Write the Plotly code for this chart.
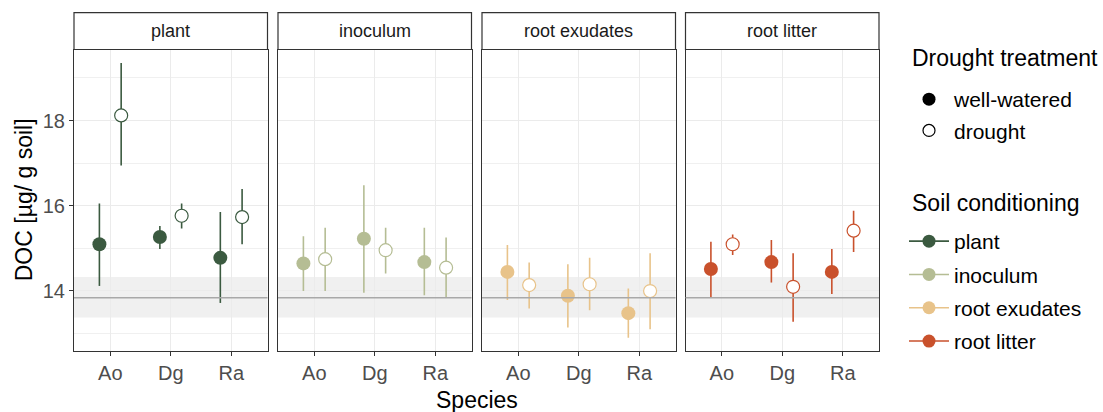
import plotly.graph_objects as go

# ── Data ─────────────────────────────────────────────────────
species = ["Ao", "Dg", "Ra"]
conditioning = ["plant", "inoculum", "root exudates", "root litter"]
colors = ["#3b5a40", "#b5bd94", "#e8c38a", "#c9512c"]

# means per panel (species order Ao, Dg, Ra)
ww_mean = {
    "plant":         [15.09, 15.26, 14.77],
    "inoculum":      [14.64, 15.22, 14.67],
    "root exudates": [14.44, 13.88, 13.47],
    "root litter":   [14.51, 14.67, 14.44],
}
ww_hi = {
    "plant":         [16.05, 15.52, 15.85],
    "inoculum":      [15.28, 16.48, 15.48],
    "root exudates": [15.07, 14.62, 14.05],
    "root litter":   [15.15, 15.19, 14.98],
}
ww_lo = {
    "plant":         [14.11, 14.98, 13.71],
    "inoculum":      [13.99, 13.95, 13.89],
    "root exudates": [13.78, 13.13, 12.89],
    "root litter":   [13.85, 14.19, 13.92],
}
dr_mean = {
    "plant":         [18.12, 15.76, 15.73],
    "inoculum":      [14.74, 14.95, 14.54],
    "root exudates": [14.13, 14.15, 13.99],
    "root litter":   [15.09, 14.09, 15.41],
}
dr_hi = {
    "plant":         [19.35, 16.05, 16.39],
    "inoculum":      [15.48, 15.48, 15.25],
    "root exudates": [14.66, 14.77, 14.88],
    "root litter":   [15.32, 14.88, 15.88],
}
dr_lo = {
    "plant":         [16.94, 15.46, 15.09],
    "inoculum":      [13.99, 14.40, 13.85],
    "root exudates": [13.58, 13.54, 13.09],
    "root litter":   [14.84, 13.27, 14.91],
}

# control reference (mean and band)
ctrl_mean = 13.83
ctrl_lo = 13.37
ctrl_hi = 14.32

y_ticks = [14, 16, 18]

# ── Layout geometry (pixels) ─────────────────────────────────
W, H = 1103, 412
PANEL_LEFTS = [74, 278, 482, 685.5]
PANEL_W = 193.5
PANEL_TOP, PANEL_BOTTOM = 49.5, 351
STRIP_TOP = 12.7
DODGE = 0.18
Y_RANGE = [12.58, 19.67]


def px(p):
    return p / W


def py(p):
    return 1 - p / H


fig = go.Figure()

for i, cond in enumerate(conditioning):
    n = "" if i == 0 else str(i + 1)
    xa, ya = "x" + n, "y" + n
    col = colors[i]
    xs = list(range(1, len(species) + 1))

    # well-watered (filled)
    fig.add_trace(go.Scatter(
        x=[v - DODGE for v in xs], y=ww_mean[cond], xaxis=xa, yaxis=ya,
        mode="markers", showlegend=False,
        marker=dict(color=col, size=14, symbol="circle", line=dict(width=0)),
        error_y=dict(type="data", symmetric=False,
                     array=[h - m for h, m in zip(ww_hi[cond], ww_mean[cond])],
                     arrayminus=[m - l for m, l in zip(ww_mean[cond], ww_lo[cond])],
                     color=col, thickness=1.6, width=0),
    ))
    # drought (open)
    fig.add_trace(go.Scatter(
        x=[v + DODGE for v in xs], y=dr_mean[cond], xaxis=xa, yaxis=ya,
        mode="markers", showlegend=False,
        marker=dict(color="white", size=13, symbol="circle",
                    line=dict(color=col, width=1.2)),
        error_y=dict(type="data", symmetric=False,
                     array=[h - m for h, m in zip(dr_hi[cond], dr_mean[cond])],
                     arrayminus=[m - l for m, l in zip(dr_mean[cond], dr_lo[cond])],
                     color=col, thickness=1.6, width=0),
    ))

    x0 = PANEL_LEFTS[i]
    x1 = x0 + PANEL_W
    fig.layout["xaxis" + n] = dict(
        domain=[px(x0), px(x1)], anchor=ya, range=[0.4, 3.6], automargin=False,
        tickvals=xs, ticktext=species,
        showgrid=True, gridcolor="#ebebeb", gridwidth=1,
        showline=True, mirror=True, linecolor="#333333", linewidth=1.2,
        ticks="outside", ticklen=4, tickcolor="#333333",
        tickfont=dict(size=20, color="#4d4d4d"), zeroline=False,
    )
    fig.layout["yaxis" + n] = dict(
        domain=[py(PANEL_BOTTOM), py(PANEL_TOP)], anchor=xa, range=Y_RANGE,
        automargin=False,
        tickvals=y_ticks, showticklabels=(i == 0),
        ticks="outside" if i == 0 else "", ticklen=4, tickcolor="#333333",
        showgrid=True, gridcolor="#ebebeb", gridwidth=1,
        minor=dict(dtick=1, tick0=13, showgrid=True, gridcolor="#f0f0f0", gridwidth=0.7),
        showline=True, mirror=True, linecolor="#333333", linewidth=1.2,
        tickfont=dict(size=20, color="#4d4d4d"), zeroline=False,
    )

    # control band + mean line
    fig.add_shape(type="rect", xref=xa + " domain", yref=ya, x0=0, x1=1,
                  y0=ctrl_lo, y1=ctrl_hi, fillcolor="#f0f0f0",
                  line_width=0, layer="below")
    fig.add_shape(type="line", xref=xa + " domain", yref=ya, x0=0, x1=1,
                  y0=ctrl_mean, y1=ctrl_mean,
                  line=dict(color="#a8a8a8", width=1.5), layer="above")

    # facet strip
    fig.add_shape(type="rect", xref="paper", yref="paper",
                  x0=px(x0), x1=px(x1), y0=py(PANEL_TOP), y1=py(STRIP_TOP),
                  fillcolor="white", line=dict(color="#333333", width=1.2))
    fig.add_annotation(x=px((x0 + x1) / 2), y=py((STRIP_TOP + PANEL_TOP) / 2),
                       xref="paper", yref="paper", text=cond, showarrow=False,
                       xanchor="center", yanchor="middle",
                       font=dict(size=18, color="#1a1a1a"))

# legend entries: drought treatment (one group each so tracegroupgap spaces them)
fig.add_trace(go.Scatter(
    x=[None], y=[None], mode="markers", name="well-watered", legend="legend",
    legendgroup="ww", marker=dict(color="black", size=13, symbol="circle"),
))
fig.add_trace(go.Scatter(
    x=[None], y=[None], mode="markers", name="drought", legend="legend",
    legendgroup="dr",
    marker=dict(color="white", size=12, symbol="circle",
                line=dict(color="black", width=1.2)),
))
# legend entries: soil conditioning
for cond, col in zip(conditioning, colors):
    fig.add_trace(go.Scatter(
        x=[None], y=[None], mode="lines+markers", name=cond, legend="legend2",
        legendgroup=cond,
        line=dict(color=col, width=1.6),
        marker=dict(color=col, size=13, symbol="circle"),
    ))

# legend titles
fig.add_annotation(x=px(910), y=py(58), xref="paper", yref="paper",
                   text="Drought treatment", showarrow=False,
                   xanchor="left", yanchor="middle", font=dict(size=23, color="black"))
fig.add_annotation(x=px(910), y=py(203), xref="paper", yref="paper",
                   text="Soil conditioning", showarrow=False,
                   xanchor="left", yanchor="middle", font=dict(size=23, color="black"))

# axis titles
fig.add_annotation(x=px((PANEL_LEFTS[0] + PANEL_LEFTS[-1] + PANEL_W) / 2), y=py(400),
                   xref="paper", yref="paper", text="Species", showarrow=False,
                   xanchor="center", yanchor="middle",
                   font=dict(size=23, color="black"))
fig.add_annotation(x=px(24), y=py((PANEL_TOP + PANEL_BOTTOM) / 2),
                   xref="paper", yref="paper", text="DOC [µg/ g soil]",
                   textangle=-90, showarrow=False,
                   xanchor="center", yanchor="middle",
                   font=dict(size=23, color="black"))

fig.update_layout(
    width=W, height=H,
    margin=dict(l=0, r=0, t=0, b=0),
    paper_bgcolor="white", plot_bgcolor="white",
    font=dict(family="Liberation Sans, Arial, sans-serif", color="black"),
    legend=dict(
        x=px(904), y=py(79), xanchor="left", yanchor="top",
        font=dict(size=21), itemwidth=40, tracegroupgap=1,
        bgcolor="rgba(0,0,0,0)",
    ),
    legend2=dict(
        x=px(904), y=py(221), xanchor="left", yanchor="top",
        font=dict(size=21), itemwidth=40, tracegroupgap=3,
        bgcolor="rgba(0,0,0,0)",
    ),
)

# the page's default body margin would push the figure off the window
fig.write_html("out.html", config={"displayModeBar": False},
               post_script="document.body.style.margin='0';")
